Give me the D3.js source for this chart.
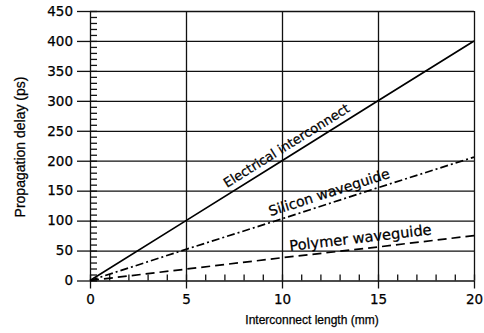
<!DOCTYPE html>
<html>
<head>
<meta charset="utf-8">
<script src="https://cdn.jsdelivr.net/npm/d3@7"></script>
<style>
  body { margin: 0; background: #fff; }
  svg { display: block; }
  .tick text { font-family: "DejaVu Sans", sans-serif; font-size: 13.5px; fill: #000; stroke: #000; stroke-width: 0.25; }
  .axis path { display: none; }
  .axis line, .grid line { stroke: #111; stroke-width: 1.3; }
  .title { font-family: "Liberation Sans", Arial, sans-serif; fill: #000; stroke: #000; stroke-width: 0.25; }
  .lbl { font-family: "DejaVu Sans", sans-serif; fill: #000; stroke: #000; stroke-width: 0.25; }
</style>
</head>
<body>
<div id="chart"></div>
<script>
// Values
var lengths = [0, 5, 10, 15, 20];              // mm
var electrical = [0, 100, 200, 300, 400];      // ps
var silicon = [0, 52, 103, 155, 206];
var polymer = [0, 19, 38, 56, 75];

var xTicks = [0, 5, 10, 15, 20];
var yTicks = [0, 50, 100, 150, 200, 250, 300, 350, 400, 450];

var names = ["Electrical interconnect", "Silicon waveguide", "Polymer waveguide"];
var labelAt = [7.3, 9.5, 10.45];   // mm where the label starts along its line
var labelSize = [13, 14, 14.6];

var svgWidth = 484, svgHeight = 333;
var x0 = 90, x1 = 474, yBottom = 280.5, yTop = 11;

var svg = d3.select("#chart").append("svg")
  .attr("width", svgWidth)
  .attr("height", svgHeight);

var x = d3.scaleLinear().domain([0, 20]).range([x0, x1]);
var y = d3.scaleLinear().domain([0, 450]).range([yBottom, yTop]);

// grid lines
svg.append("g").attr("class", "grid")
  .attr("transform", `translate(${x0},0)`)
  .call(d3.axisRight(y).tickValues(yTicks).tickSize(x1 - x0).tickFormat(""))
  .call(g => g.select(".domain").remove());

svg.append("g").attr("class", "grid")
  .attr("transform", `translate(0,${yBottom})`)
  .call(d3.axisTop(x).tickValues(xTicks).tickSize(yBottom - yTop).tickFormat(""))
  .call(g => g.select(".domain").remove());

// major ticks + labels
svg.append("g").attr("class", "axis")
  .attr("transform", `translate(${x0},0)`)
  .call(d3.axisLeft(y).tickValues(yTicks).tickSize(13).tickPadding(4));

svg.append("g").attr("class", "axis")
  .attr("transform", `translate(0,${yBottom})`)
  .call(d3.axisBottom(x).tickValues(xTicks).tickSize(8).tickPadding(6));

// minor ticks
svg.append("g").attr("class", "axis")
  .attr("transform", `translate(${x0},0)`)
  .call(d3.axisRight(y).tickValues(d3.range(0, 451, 10)).tickSize(7).tickFormat(""));

svg.append("g").attr("class", "axis")
  .attr("transform", `translate(0,${yBottom})`)
  .call(d3.axisTop(x).tickValues(d3.range(0, 21, 1)).tickSize(6).tickFormat(""));

// axis titles
svg.append("text").attr("class", "title")
  .attr("x", 312).attr("y", 324)
  .attr("text-anchor", "middle")
  .style("font-size", "12px")
  .text("Interconnect length (mm)");

svg.append("text").attr("class", "title")
  .attr("transform", "translate(25,147) rotate(-90)")
  .attr("text-anchor", "middle")
  .style("font-size", "14px")
  .text("Propagation delay (ps)");

// data lines
var series = [electrical, silicon, polymer];
var dashes = [null, "8,3,2,3", "9,5"];
var line = d3.line().x((d, i) => x(lengths[i])).y(d => y(d));

series.forEach(function(s, k) {
  svg.append("path")
    .datum(s)
    .attr("d", line)
    .attr("fill", "none")
    .attr("stroke", "#000")
    .attr("stroke-width", 1.7)
    .attr("stroke-dasharray", dashes[k]);

  var last = s[s.length - 1];
  var angle = Math.atan2(y(last) - y(0), x(20) - x(0)) * 180 / Math.PI;
  var lx = labelAt[k];
  var ly = last * lx / 20;
  svg.append("text").attr("class", "lbl")
    .attr("transform", `translate(${x(lx)},${y(ly)}) rotate(${angle})`)
    .attr("dy", -6)
    .style("font-size", labelSize[k] + "px")
    .text(names[k]);
});
</script>
</body>
</html>
